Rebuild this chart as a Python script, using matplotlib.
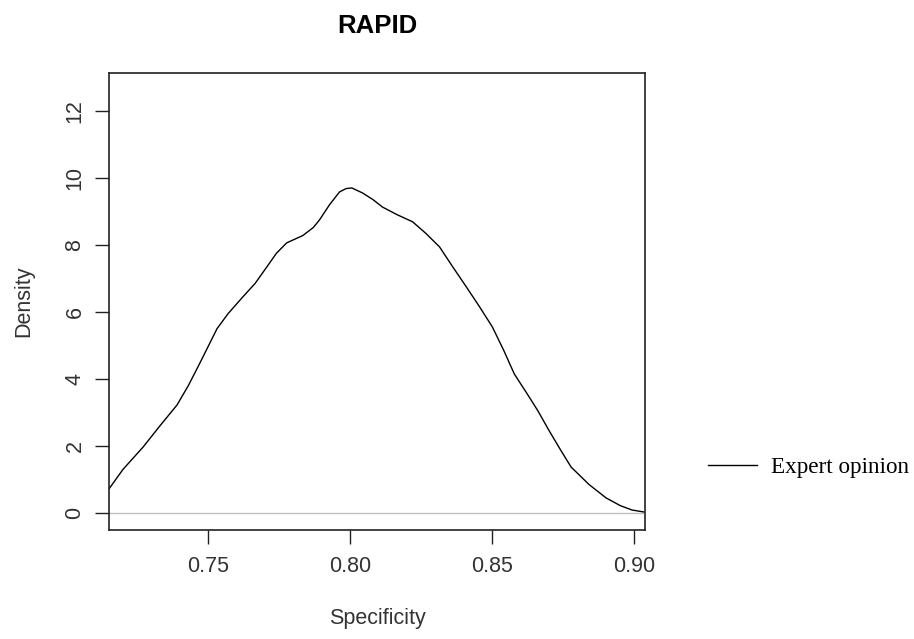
import matplotlib.pyplot as plt

# density curve of specificity under the expert-opinion prior
spec = [0.7151, 0.7200, 0.7271, 0.7330, 0.7390, 0.7430, 0.7471, 0.7531,
        0.7570, 0.7622, 0.7665, 0.7706, 0.7740, 0.7776, 0.7833, 0.7870,
        0.7892, 0.7927, 0.7962, 0.7985, 0.8005, 0.8043, 0.8080, 0.8113,
        0.8165, 0.8219, 0.8265, 0.8314, 0.8360, 0.8408, 0.8455, 0.8500,
        0.8540, 0.8577, 0.8619, 0.8660, 0.8700, 0.8740, 0.8777, 0.8840,
        0.8900, 0.8950, 0.8991, 0.9033]
density = [0.72, 1.30, 1.97, 2.60, 3.22, 3.80, 4.48, 5.50,
           5.95, 6.45, 6.85, 7.34, 7.75, 8.06, 8.28, 8.52,
           8.75, 9.20, 9.58, 9.68, 9.70, 9.55, 9.35, 9.13,
           8.90, 8.69, 8.35, 7.94, 7.35, 6.75, 6.15, 5.55,
           4.85, 4.15, 3.60, 3.05, 2.45, 1.88, 1.37, 0.85,
           0.45, 0.22, 0.09, 0.03]

y_ticks = [0, 2, 4, 6, 8, 10, 12]
x_ticks = [0.75, 0.80, 0.85, 0.90]

plt.rcParams['font.family'] = ['Liberation Sans', 'DejaVu Sans']

fig = plt.figure(figsize=(9.14, 6.39), dpi=100)
ax = fig.add_axes([0.1193, 0.1706, 0.5864, 0.7152])

ax.axhline(0, color='#bebebe', lw=1.0, zorder=1)
ax.plot(spec, density, color='black', lw=1.0, label='Expert opinion', zorder=2)

ax.set_xlim(0.7151, 0.9037)
ax.set_ylim(-0.507, 13.13)
ax.set_xticks(x_ticks)
ax.set_xticklabels(['%.2f' % v for v in x_ticks])
ax.set_yticks(y_ticks)
ax.set_yticklabels([str(v) for v in y_ticks], rotation=90, va='center')
ax.tick_params(direction='out', length=10, width=1.0, labelsize=15.5,
               colors='#222222', labelcolor='#333333')
ax.tick_params(axis='x', pad=9)
ax.tick_params(axis='y', pad=7)
for s in ax.spines.values():
    s.set_linewidth(1.2)
    s.set_color('#222222')

ax.set_title('RAPID', fontsize=18.5, fontweight='bold', pad=29)
ax.set_xlabel('Specificity', fontsize=15.5, color='#333333', labelpad=22)
ax.set_ylabel('Density', fontsize=15.5, color='#333333', labelpad=22)

leg = ax.legend(loc='center left', bbox_to_anchor=(1.1175, 0.136), frameon=False,
                borderpad=0, borderaxespad=0,
                handlelength=2.1, handletextpad=0.6,
                prop={'family': 'Liberation Serif', 'size': 16.7})

fig.savefig('out.png', dpi=100)
